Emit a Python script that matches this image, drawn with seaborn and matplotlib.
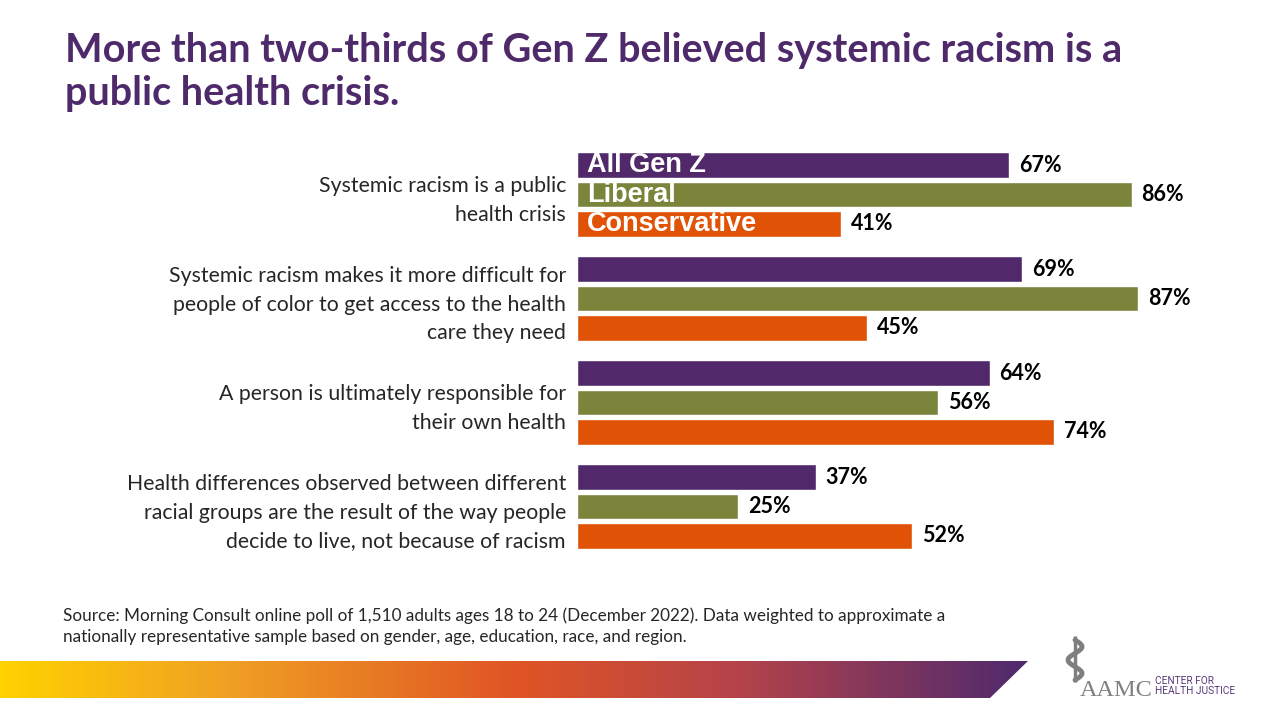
import numpy as np
import pandas as pd
import matplotlib.pyplot as plt
import seaborn as sns
from matplotlib.colors import LinearSegmentedColormap
from matplotlib.patches import Polygon

sns.set_style("white")
plt.rcParams["font.family"] = ["Lato", "DejaVu Sans"]

# ---- data ----
statements = [
    "Systemic racism is a public\nhealth crisis",
    "Systemic racism makes it more difficult for\npeople of color to get access to the health\ncare they need",
    "A person is ultimately responsible for\ntheir own health",
    "Health differences observed between different\nracial groups are the result of the way people\ndecide to live, not because of racism",
]
groups = ["All Gen Z", "Liberal", "Conservative"]
all_gen_z = [67, 69, 64, 37]
liberal = [86, 87, 56, 25]
conservative = [41, 45, 74, 52]

colors = ["#51296B", "#7A843B", "#E05206"]
TITLE_COLOR = "#4F2A6B"
TEXT_COLOR = "#262626"

df = pd.DataFrame({
    "statement": statements * 3,
    "group": [g for g in groups for _ in statements],
    "value": all_gen_z + liberal + conservative,
})

# ---- figure ----
fig = plt.figure(figsize=(12.8, 7.2), dpi=100)
ax = fig.add_axes([577 / 1280, 1 - 558.5 / 720, 645 / 1280, 416 / 720])

sns.barplot(data=df, y="statement", x="value", hue="group", hue_order=groups,
            order=statements, palette=colors, orient="h", width=0.85, gap=0.12,
            saturation=1, legend=False, ax=ax)

ax.set_xlim(0, 100)
ax.set_ylim(3.5, -0.5)
ax.set_xlabel("")
ax.set_ylabel("")
ax.set_xticks([])
for s in ax.spines.values():
    s.set_visible(False)
ax.tick_params(axis="y", length=0, pad=8)
for lbl in ax.get_yticklabels():
    lbl.set_fontsize(15.3)
    lbl.set_color(TEXT_COLOR)
    lbl.set_linespacing(1.53)
    lbl.set_ha("right")

for cont in ax.containers:
    ax.bar_label(cont, fmt="%d%%", padding=7, fontsize=15.5, fontweight="bold", color="black")

# group names written inside the first set of bars
for cont, name in zip(ax.containers, groups):
    p = cont.patches[0]
    ax.text(1.5, p.get_y() + p.get_height() / 2, name, color="white",
            fontsize=19.5, fontweight="bold", va="center", ha="left",
            family=["Liberation Sans", "DejaVu Sans"])

# ---- title ----
fig.text(65 / 1280, 1 - 32 / 720,
         "More than two-thirds of Gen Z believed systemic racism is a\npublic health crisis.",
         fontsize=28.5, fontweight="bold", color=TITLE_COLOR, va="top", ha="left",
         linespacing=1.2)

# ---- source ----
fig.text(63 / 1280, 1 - 607 / 720,
         "Source: Morning Consult online poll of 1,510 adults ages 18 to 24 (December 2022). Data weighted to approximate a\n"
         "nationally representative sample based on gender, age, education, race, and region.",
         fontsize=12.3, color=TEXT_COLOR, va="top", ha="left", linespacing=1.38)

# ---- gradient band ----
band = fig.add_axes([0, 0, 1, 1], zorder=-1)
band.set_xlim(0, 1280)
band.set_ylim(720, 0)
band.axis("off")
cmap = LinearSegmentedColormap.from_list(
    "band", [(0, "#FFD200"), (0.22, "#F0A024"), (0.5, "#E05524"),
             (0.72, "#B4434A"), (1.0, "#4E2A6E")])
grad = np.linspace(0, 1, 512).reshape(1, -1)
im = band.imshow(grad, cmap=cmap, aspect="auto", extent=[0, 1028, 698, 661])
clip = Polygon([[0, 661], [1028, 661], [990, 698], [0, 698]], closed=True,
               transform=band.transData, facecolor="none", edgecolor="none")
band.add_patch(clip)
im.set_clip_path(clip)

# ---- logo ----
t = np.linspace(0, 1, 200)
band.plot([1075, 1075], [636, 682], color="#7F7F7F", lw=2.5, solid_capstyle="butt")
band.plot(1075 + 7 * np.sin(t * 3 * np.pi), 640 + 40 * t, color="#7F7F7F", lw=3.5)
fig.text(1080 / 1280, 1 - 696 / 720, "AAMC", family=["Liberation Serif", "DejaVu Serif"],
         fontsize=17.5, color="#808080", va="baseline", ha="left")
fig.text(1155 / 1280, 1 - 694 / 720, "CENTER FOR\nHEALTH JUSTICE",
         family=["Roboto", "DejaVu Sans"], fontsize=7.3, color="#5A3A7A",
         va="baseline", ha="left", linespacing=1.05)

fig.savefig("out.png", dpi=100)
